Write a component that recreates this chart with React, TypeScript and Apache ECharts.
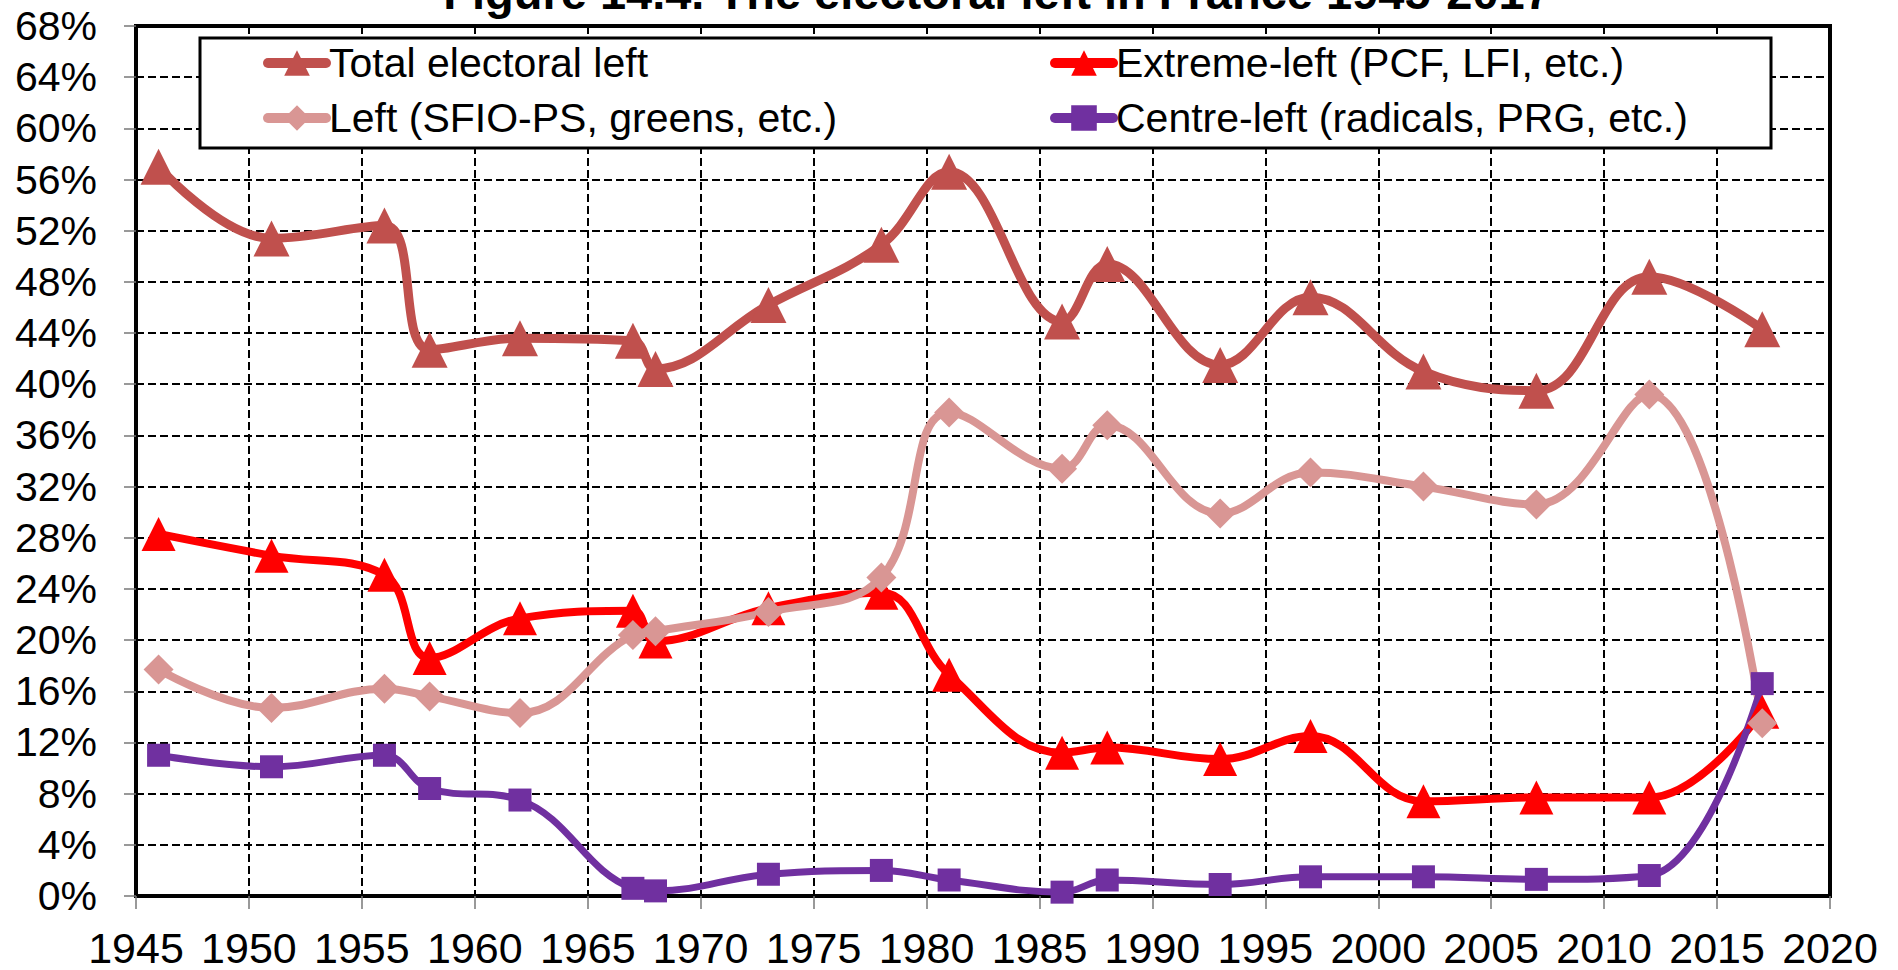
import React, { useEffect, useRef } from "react";
import * as echarts from "echarts";

const years = [1946, 1951, 1956, 1958, 1962, 1967, 1968, 1973, 1978, 1981, 1986, 1988, 1993, 1997, 2002, 2007, 2012, 2017];
const totalLeft = [57.0, 51.4, 52.4, 42.7, 43.6, 43.4, 41.2, 46.2, 50.9, 56.6, 44.9, 49.4, 41.5, 46.8, 41.0, 39.5, 48.4, 44.3];
const extremeLeft = [28.3, 26.6, 25.1, 18.6, 21.7, 22.3, 19.9, 22.5, 23.7, 17.3, 11.2, 11.6, 10.7, 12.5, 7.4, 7.7, 7.7, 14.4];
const leftPS = [17.7, 14.7, 16.2, 15.6, 14.3, 20.4, 20.7, 22.2, 24.9, 37.8, 33.4, 36.8, 29.9, 33.1, 32.0, 30.6, 39.2, 13.5];
const centreLeft = [11.0, 10.1, 11.0, 8.4, 7.5, 0.6, 0.4, 1.7, 2.0, 1.25, 0.3, 1.25, 0.9, 1.5, 1.5, 1.3, 1.6, 16.6];

const TITLE = "Figure 14.4. The electoral left in France 1945-2017";
const N_TOTAL = "Total electoral left";
const N_EXT = "Extreme-left (PCF, LFI, etc.)";
const N_LEFT = "Left (SFIO-PS, greens, etc.)";
const N_CENTRE = "Centre-left (radicals, PRG, etc.)";

const FONT = "'Liberation Sans', Arial, sans-serif";

const pairs = (vals: number[]) => years.map((y, i) => [y, vals[i]]);

export default function App() {
  const ref = useRef<HTMLDivElement>(null);
  useEffect(() => {
    if (!ref.current) return;
    const chart = echarts.init(ref.current, null, { renderer: "svg" });
    const mk = (name: string, vals: number[], color: string, lw: number, symbol: string, size: number) => ({
      name,
      type: "line",
      data: pairs(vals),
      smooth: 0.4,
      symbol,
      symbolSize: size,
      showSymbol: true,
      lineStyle: { color, width: lw, cap: "round", join: "round" },
      itemStyle: { color, borderWidth: 0 },
      emphasis: { disabled: true },
    });
    const legendCommon = {
      orient: "vertical",
      top: 42,
      padding: 0,
      itemWidth: 58,
      itemHeight: 32,
      itemGap: 13,
      z: 200,
      lineStyle: { width: 10, cap: "round" },
      textStyle: { fontSize: 41, fontFamily: FONT, color: "#000", lineHeight: 42, padding: [0, 0, 0, -2] },
      selectedMode: false,
    };
    chart.setOption({
      animation: false,
      backgroundColor: "#fff",
      textStyle: { fontFamily: FONT },
      grid: {
        left: 136,
        right: 68,
        top: 26,
        bottom: 74,
        show: true,
        borderColor: "#000",
        borderWidth: 4,
        backgroundColor: "transparent",
      },
      xAxis: {
        type: "value",
        min: 1945,
        max: 2020,
        interval: 5,
        axisLine: { show: true, lineStyle: { color: "#000", width: 4 } },
        axisTick: { show: true, length: 13, lineStyle: { color: "#777", width: 1.5 } },
        axisLabel: { fontSize: 43, color: "#000", fontFamily: FONT, margin: 30, formatter: (v: number) => String(v) },
        splitLine: { show: true, lineStyle: { color: "#000", width: 2, type: [8, 4] } },
      },
      yAxis: {
        type: "value",
        min: 0,
        max: 68,
        interval: 4,
        axisLine: { show: true, lineStyle: { color: "#000", width: 4 } },
        axisTick: { show: true, length: 12, lineStyle: { color: "#777", width: 1.5 } },
        axisLabel: { fontSize: 41, color: "#000", fontFamily: FONT, margin: 39, formatter: "{value}%" },
        splitLine: { show: true, lineStyle: { color: "#000", width: 2, type: [8, 4] } },
      },
      legend: [
        { ...legendCommon, left: 263, data: [N_TOTAL, N_LEFT] },
        { ...legendCommon, left: 1050, data: [N_EXT, N_CENTRE] },
      ],
      graphic: [
        {
          type: "rect",
          z: 150,
          shape: { x: 200, y: 38, width: 1571, height: 110 },
          style: { fill: "#fff", stroke: "#000", lineWidth: 3 },
        },
        {
          type: "text",
          z: 150,
          x: 997,
          y: -8,
          style: {
            text: TITLE,
            font: `bold 47px ${FONT}`,
            fill: "#000",
            align: "center",
            verticalAlign: "middle",
          },
        },
      ],
      series: [
        mk(N_TOTAL, totalLeft, "#C0504D", 9, "triangle", 36),
        mk(N_EXT, extremeLeft, "#FF0000", 8, "triangle", 34),
        mk(N_LEFT, leftPS, "#D99694", 8, "diamond", 30),
        mk(N_CENTRE, centreLeft, "#7030A0", 7, "rect", 23),
      ],
    });
    return () => chart.dispose();
  }, []);
  return <div ref={ref} style={{ position: "absolute", left: 0, top: 0, width: 1898, height: 970 }} />;
}
